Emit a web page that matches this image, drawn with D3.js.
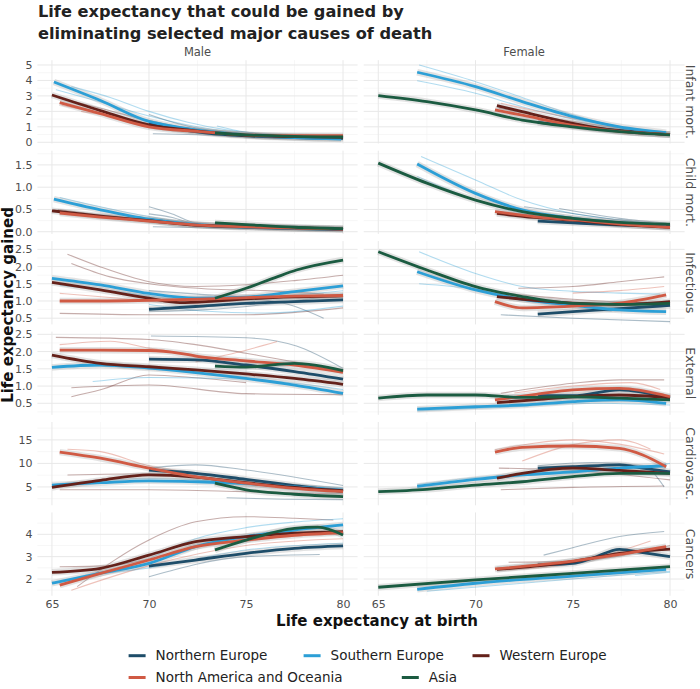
<!DOCTYPE html>
<html><head><meta charset="utf-8">
<script src="https://cdn.jsdelivr.net/npm/d3@7"></script>
<style>body{margin:0;background:#fff} text{font-family:"DejaVu Sans",sans-serif}</style>
</head><body><svg id="c" width="700" height="689"></svg>
<script>
// ---------- data ----------
const sexes = ["Male", "Female"];
const causes = ["Infant mort.", "Child mort.", "Infectious", "External", "Cardiovasc.", "Cancers"];
const regionKeys = ["NE", "SE", "WE", "NAO", "AS"];
const regionNames = ["Northern Europe", "Southern Europe", "Western Europe", "North America and Oceania", "Asia"];
const regionColors = ["#1e4d69", "#2c9fd6", "#64211a", "#d05a44", "#1b5b41"];
const xTicks = [65, 70, 75, 80];
const yTicks = [[0,1,2,3,4,5],[0,0.5,1,1.5],[0.5,1,1.5,2,2.5],[0.5,1,1.5,2,2.5],[5,10,15],[2,3,4]];
const yMinor = [[0.5,1.5,2.5,3.5,4.5],[0.25,0.75,1.25,1.75],[0.75,1.25,1.75,2.25],[0.25,0.75,1.25,1.75,2.25],[2.5,7.5,12.5,17.5],[1.5,2.5,3.5,4.5]];
const yTickDecimals = [0, 1, 1, 1, 0, 0];
const yDomains = [[-0.08,5.31],[-0.05,1.82],[0.32,2.74],[0.165,2.58],[1.1,18.8],[1.25,4.98]];

// regional smoothed curves: [region, cause, [[lifeExp, gain], ...]]
const maleSmooth = [
  ["NE","Infant mort.",[[70,1.25],[71.5,0.85],[73,0.6],[75,0.42],[77.5,0.3],[80,0.25]]],
  ["SE","Infant mort.",[[65.1,3.9],[67.5,2.7],[70,1.35],[71.4,1.0],[72.4,0.8],[75,0.47],[77.5,0.3],[79.9,0.21]]],
  ["WE","Infant mort.",[[65,3.06],[67.5,2.05],[70,1.12],[72.4,0.74],[75,0.45],[77.5,0.36],[80,0.32]]],
  ["NAO","Infant mort.",[[65.4,2.56],[67.5,1.85],[70,1.0],[72.5,0.7],[75,0.48],[77.5,0.42],[80,0.42]]],
  ["AS","Infant mort.",[[73.4,0.6],[75,0.48],[77.5,0.38],[80,0.34]]],
  ["NE","Child mort.",[[70,0.27],[72.4,0.15],[75,0.1],[77.5,0.07],[80,0.05]]],
  ["SE","Child mort.",[[65.1,0.73],[67.5,0.49],[70,0.28],[72.5,0.16],[75,0.11],[77.5,0.08],[80,0.06]]],
  ["WE","Child mort.",[[65,0.47],[67.5,0.35],[70,0.25],[72.4,0.15],[75,0.12],[77.5,0.09],[80,0.06]]],
  ["NAO","Child mort.",[[65.4,0.42],[67.5,0.33],[70,0.24],[72.5,0.15],[75,0.11],[77.5,0.08],[80,0.06]]],
  ["AS","Child mort.",[[73.4,0.2],[75,0.16],[77.5,0.1],[80,0.07]]],
  ["NE","Infectious",[[70,0.76],[72.4,0.84],[75,0.93],[77.5,0.98],[80,1.03]]],
  ["SE","Infectious",[[65,1.66],[67.5,1.47],[70,1.22],[72.4,1.08],[75,1.11],[77.5,1.27],[80,1.44]]],
  ["WE","Infectious",[[65,1.54],[67.5,1.32],[70,1.08],[71.6,0.95],[73.4,1.0],[75,1.06],[77.5,1.12],[80,1.15]]],
  ["NAO","Infectious",[[65.4,1.0],[67.5,1.0],[70,1.02],[72.5,1.05],[75,1.1],[77.5,1.14],[80,1.16]]],
  ["AS","Infectious",[[73.4,1.08],[75,1.37],[76.5,1.68],[77.6,1.9],[80,2.19]]],
  ["NE","External",[[70,1.78],[72.4,1.76],[75,1.61],[77.5,1.42],[80,1.2]]],
  ["SE","External",[[65,1.54],[67.5,1.61],[70,1.52],[72.4,1.39],[75,1.22],[77.5,1.03],[80,0.79]]],
  ["WE","External",[[65,1.9],[67.5,1.66],[70,1.56],[72.4,1.47],[75,1.35],[77.5,1.22],[80,1.05]]],
  ["NAO","External",[[65.4,2.04],[67.5,2.04],[70,2.03],[71.6,1.95],[72.4,1.87],[75,1.73],[77.5,1.61],[80,1.4]]],
  ["AS","External",[[73.4,1.58],[75,1.55],[77.5,1.66],[80,1.45]]],
  ["NE","Cardiovasc.",[[70,8.6],[72.4,7.9],[75,6.6],[77.5,5.3],[80,4.0]]],
  ["SE","Cardiovasc.",[[65,5.4],[67.5,5.9],[70,6.3],[72.5,6.1],[75,5.7],[77.5,5.0],[80,4.3]]],
  ["WE","Cardiovasc.",[[65,4.9],[67.5,6.4],[70,7.55],[72.4,7.1],[75,5.9],[77.5,4.9],[80,4.2]]],
  ["NAO","Cardiovasc.",[[65.4,12.4],[67.5,11.1],[70,9.0],[72.4,7.2],[75,5.8],[77.5,4.7],[80,4.0]]],
  ["AS","Cardiovasc.",[[73.4,5.8],[75,4.4],[77.5,3.45],[80,2.95]]],
  ["NE","Cancers",[[70,2.58],[72.4,2.85],[75,3.15],[77.5,3.37],[80,3.48]]],
  ["SE","Cancers",[[65,1.81],[67.5,2.26],[70,2.7],[72.4,3.45],[75,3.9],[77.5,4.19],[80,4.42]]],
  ["WE","Cancers",[[65,2.3],[67.5,2.48],[70,3.07],[72.4,3.67],[75,3.9],[77.5,4.05],[80,4.12]]],
  ["NAO","Cancers",[[65.4,1.73],[67.5,2.25],[70,2.85],[72.4,3.45],[75,3.74],[77.5,3.96],[80,4.07]]],
  ["AS","Cancers",[[73.4,3.3],[75,3.74],[77.5,4.27],[78.7,4.32],[80,3.97]]]
];
const femaleSmooth = [
  ["NE","Infant mort.",[[73.2,1.29],[75,1.05],[77.5,0.75],[80,0.5]]],
  ["SE","Infant mort.",[[67,4.53],[70,3.6],[72.4,2.63],[75,1.66],[77.4,1.0],[79.8,0.62]]],
  ["WE","Infant mort.",[[71.1,2.37],[72.4,1.98],[75,1.23],[77.4,0.73],[80,0.5]]],
  ["NAO","Infant mort.",[[71,2.09],[72.4,1.75],[75,1.1],[77.4,0.7],[80,0.5]]],
  ["AS","Infant mort.",[[65,3.02],[67.5,2.63],[70,2.09],[72.4,1.44],[75,1.0],[77.4,0.69],[80,0.48]]],
  ["NE","Child mort.",[[73.2,0.24],[75,0.2],[77.5,0.15],[80,0.12]]],
  ["SE","Child mort.",[[67,1.52],[70,0.86],[72.4,0.49],[75,0.3],[77.5,0.2],[79.8,0.14]]],
  ["WE","Child mort.",[[71.1,0.41],[73,0.32],[75,0.26],[77.5,0.16],[80,0.1]]],
  ["NAO","Child mort.",[[71,0.45],[73,0.34],[75,0.27],[77.5,0.17],[80,0.1]]],
  ["AS","Child mort.",[[65,1.54],[67.5,1.09],[70,0.71],[72.4,0.45],[75,0.3],[77.4,0.21],[80,0.17]]],
  ["NE","Infectious",[[73.2,0.62],[75,0.69],[77.4,0.78],[80,0.87]]],
  ["SE","Infectious",[[67,1.85],[70,1.32],[72.4,1.05],[75,0.88],[77.4,0.74],[79.8,0.69]]],
  ["WE","Infectious",[[71.1,1.13],[73,1.02],[75,0.94],[77.4,0.9],[80,0.98]]],
  ["NAO","Infectious",[[71,0.98],[72.4,0.8],[75,0.85],[77.4,0.94],[79.8,1.18]]],
  ["AS","Infectious",[[65,2.43],[67.5,1.9],[70,1.42],[72.4,1.13],[75,0.93],[77.4,0.9],[80,0.93]]],
  ["NE","External",[[73.2,0.72],[75,0.72],[77.4,0.89],[80,0.65]]],
  ["SE","External",[[67,0.33],[70,0.4],[72.4,0.45],[75,0.55],[77.4,0.6],[79.8,0.5]]],
  ["WE","External",[[71.1,0.52],[73,0.6],[75,0.69],[77.4,0.74],[80,0.66]]],
  ["NAO","External",[[71,0.6],[73,0.75],[75,0.89],[77.4,0.93],[80,0.69]]],
  ["AS","External",[[65,0.65],[67.5,0.74],[70,0.74],[72.4,0.67],[75,0.69],[77.4,0.65],[80,0.6]]],
  ["NE","Cardiovasc.",[[73.2,9.0],[75,9.3],[77.4,9.7],[78.6,9.0],[80,8.2]]],
  ["SE","Cardiovasc.",[[67,5.1],[70,6.6],[72.4,7.55],[75,8.2],[77.4,9.0],[79.8,9.5]]],
  ["WE","Cardiovasc.",[[71.1,6.85],[72.4,7.9],[75,9.0],[77.4,8.5],[80,7.9]]],
  ["NAO","Cardiovasc.",[[71,12.4],[72.4,13.4],[75,13.7],[77.4,13.2],[78.6,11.8],[79.8,9.3]]],
  ["AS","Cardiovasc.",[[65,4.0],[67.5,4.5],[70,5.4],[72.4,6.1],[75,7.2],[77.4,7.9],[80,7.9]]],
  ["NE","Cancers",[[73.2,2.63],[75,2.7],[76,2.93],[77.4,3.33],[78.6,3.18],[80,3.0]]],
  ["SE","Cancers",[[67,1.54],[70,1.81],[75,2.13],[79.8,2.43]]],
  ["WE","Cancers",[[71.1,2.43],[75,2.78],[77.4,3.15],[80,3.34]]],
  ["NAO","Cancers",[[71,2.45],[75,2.8],[77.4,3.1],[79.8,3.45]]],
  ["AS","Cancers",[[65,1.63],[70,1.96],[75,2.25],[80,2.55]]]
];

// individual country curves
const maleCountries = [
  ["SE","Infant mort.",[[65.2,3.4],[67.5,2.6],[70,1.7],[72.5,1.0],[75,0.55],[80,0.25]]],
  ["SE","Infant mort.",[[66,3.6],[68,2.9],[70,2.0],[72,1.3],[74,0.8],[77,0.45],[80,0.3]]],
  ["SE","Infant mort.",[[73.5,1.05],[75,0.65],[77,0.45],[80,0.3]]],
  ["NE","Infant mort.",[[70,1.8],[71.5,1.2],[73,0.8],[75,0.55],[80,0.3]]],
  ["NE","Infant mort.",[[70.2,0.55],[72,0.5],[75,0.4],[80,0.25]]],
  ["WE","Infant mort.",[[65.3,2.9],[67.5,2.2],[70,1.4],[72,0.9],[75,0.55],[80,0.35]]],
  ["NAO","Infant mort.",[[65.5,2.4],[67,2.0],[70,1.1],[72.5,0.75],[75,0.5],[80,0.4]]],
  ["NAO","Infant mort.",[[66.5,2.0],[68,1.7],[70,1.2],[72,0.8],[74,0.55]]],
  ["NE","Child mort.",[[70,0.56],[71.2,0.4],[72.4,0.2],[75,0.12],[80,0.06]]],
  ["NE","Child mort.",[[70,0.4],[71.2,0.32],[72.4,0.17],[75,0.1]]],
  ["NE","Child mort.",[[70.2,0.11],[73,0.09],[76,0.07],[80,0.05]]],
  ["SE","Child mort.",[[65.4,0.77],[67.5,0.56],[70,0.34],[72.4,0.19],[75,0.12],[80,0.06]]],
  ["WE","Child mort.",[[65.3,0.5],[67.5,0.38],[70,0.27],[73,0.15],[80,0.06]]],
  ["NAO","Child mort.",[[66,0.38],[68,0.3],[70,0.22],[73,0.14]]],
  ["WE","Infectious",[[65.8,2.36],[67.5,1.99],[70,1.56],[72.4,1.42],[75,1.47],[77.6,1.6],[80,1.75]]],
  ["WE","Infectious",[[66,2.09],[68,1.7],[70,1.5],[73,1.35],[76,1.3],[79,1.2]]],
  ["NE","Infectious",[[70,1.3],[72.5,1.2],[75,1.1],[77.5,0.85],[79,0.5]]],
  ["WE","Infectious",[[65.4,0.64],[70,0.6],[75,0.6],[80,0.8]]],
  ["NAO","Infectious",[[65.4,1.22],[68,1.1],[70,1.0],[73,0.9]]],
  ["SE","Infectious",[[65.4,1.45],[68,1.3],[70,1.15],[73,1.0],[76,1.1],[80,1.3]]],
  ["SE","Infectious",[[70,0.9],[73,0.7],[76,0.65],[80,0.85]]],
  ["NE","Infectious",[[70,0.7],[73,0.75],[76,0.9],[80,1.2]]],
  ["WE","External",[[65.2,2.41],[70,2.35],[72.4,2.2],[75,1.95],[77.5,1.7],[80,1.4]]],
  ["NE","External",[[70.1,2.45],[75,2.4],[77.6,2.16],[80,1.51]]],
  ["NAO","External",[[72.4,1.7],[75,2.04],[76.6,2.29]]],
  ["WE","External",[[66,0.69],[67.5,0.89],[70,1.32],[72.4,1.24],[75,1.1]]],
  ["WE","External",[[66,0.95],[70,1.03],[75,0.78],[80,0.75]]],
  ["SE","External",[[67.1,1.13],[70,1.25],[75,1.2],[80,0.9]]],
  ["NAO","External",[[65.4,2.2],[68,2.3],[70,2.1],[73,1.85]]],
  ["NAO","Cardiovasc.",[[65.8,13.0],[67.5,12.5],[70,9.5],[72.5,8.0]]],
  ["NE","Cardiovasc.",[[70,9.0],[72.4,9.7],[75,8.6],[80,5.3]]],
  ["WE","Cardiovasc.",[[65.8,7.55],[70,7.8],[73,7.0]]],
  ["NE","Cardiovasc.",[[74,2.7],[77,2.4],[80,2.3]]],
  ["WE","Cardiovasc.",[[65.4,4.4],[70,4.4],[75,4.0],[80,3.5]]],
  ["SE","Cardiovasc.",[[66,5.8],[70,6.8],[75,6.0],[80,4.8]]],
  ["WE","Cancers",[[66.3,1.66],[70,3.75],[72.4,4.56],[75,4.79],[77.5,4.72],[79.5,4.64]]],
  ["NE","Cancers",[[70,2.1],[75,3.0],[78.8,3.1]]],
  ["SE","Cancers",[[70,2.9],[72.4,3.8],[75,4.3],[77.5,4.55],[80,4.7]]],
  ["WE","Cancers",[[65.4,2.55],[68,2.6],[70,2.9]]],
  ["NAO","Cancers",[[66,1.5],[70,2.6],[75,3.5],[80,3.8]]],
  ["SE","Cancers",[[67,2.2],[70,2.5],[75,3.3],[80,3.6]]]
];
const femaleCountries = [
  ["SE","Infant mort.",[[67.1,5.0],[70,3.92],[72.4,2.9],[75,1.78],[77.4,1.0],[80,0.6]]],
  ["SE","Infant mort.",[[67,3.98],[70,3.17],[72.4,2.3],[75,1.5],[80,0.55]]],
  ["NAO","Infant mort.",[[71.3,2.52],[75,1.55],[80,0.55]]],
  ["WE","Infant mort.",[[71.2,2.2],[75,1.35],[80,0.5]]],
  ["NE","Infant mort.",[[73.2,1.45],[75,1.15],[80,0.45]]],
  ["SE","Child mort.",[[67.2,1.69],[70,1.16],[72.4,0.71],[75,0.41],[77.6,0.26],[80,0.15]]],
  ["SE","Child mort.",[[67,1.24],[70,0.71],[72.4,0.41],[75,0.25]]],
  ["NE","Child mort.",[[72.5,0.56],[75,0.41],[77.4,0.26],[80,0.15]]],
  ["NE","Child mort.",[[74.3,0.52],[77.4,0.3],[80,0.18]]],
  ["WE","Child mort.",[[71.1,0.45],[75,0.28],[80,0.1]]],
  ["SE","Infectious",[[67.1,2.43],[70,1.8],[72.4,1.42],[75,1.28],[77.4,1.23],[79.5,1.2]]],
  ["SE","Infectious",[[67.1,1.5],[70,1.34],[73,1.0],[77,0.7]]],
  ["WE","Infectious",[[72.2,1.37],[75,1.42],[77.4,1.56],[79.7,1.7]]],
  ["NAO","Infectious",[[75,1.23],[77.4,1.3],[79.7,1.42]]],
  ["NE","Infectious",[[71.3,0.6],[75,0.5],[80,0.4]]],
  ["WE","Infectious",[[71,1.25],[75,1.05],[80,0.9]]],
  ["WE","External",[[71.3,0.79],[75,1.08],[77.4,1.18],[79.7,1.18]]],
  ["NAO","External",[[72,0.8],[75,1.0],[78,1.1],[79.5,0.9]]],
  ["SE","External",[[67,0.28],[72,0.4],[76,0.5],[80,0.45]]],
  ["NE","External",[[71.2,0.4],[75,0.55],[80,0.6]]],
  ["NAO","Cardiovasc.",[[71,12.9],[73,14.3],[75,15.0],[77.4,14.1],[79.7,12.0]]],
  ["NAO","Cardiovasc.",[[72.4,10.5],[75,14.0],[77.4,15.0],[79,13]]],
  ["WE","Cardiovasc.",[[71.3,4.4],[75,4.9],[79.7,5.2]]],
  ["NE","Cardiovasc.",[[73.2,9.5],[76,10.2],[78.6,9.5],[79.7,5.0]]],
  ["SE","Cardiovasc.",[[67,5.5],[70,7.0],[75,8.0],[80,10.0]]],
  ["WE","Cardiovasc.",[[71.2,9.0],[75,8.5],[80,6.5]]],
  ["NE","Cancers",[[73.5,3.07],[75,3.4],[77.4,3.9],[79.7,4.13]]],
  ["WE","Cancers",[[71.7,2.75],[75,2.8],[80,3.5]]],
  ["SE","Cancers",[[78.2,2.16],[80,2.3]]],
  ["NAO","Cancers",[[71.5,2.4],[75,2.7],[79,3.7]]],
  ["SE","Cancers",[[67.5,1.45],[75,2.0],[80,2.35]]]
];

// ---------- layout ----------
const svg = d3.select("#c");
const colRange = [[37.4, 357.6], [363.7, 684.6]];
const rowTop0 = 60.2, rowH = 83.3, rowGap = 7.15;
const xDomain = [64.25, 80.75];
const colorOf = k => regionColors[regionKeys.indexOf(k)];
const tickCol = "#4d4d4d";

const xScales = colRange.map(r => d3.scaleLinear().domain(xDomain).range(r));
const yScales = causes.map((c, i) => {
  const top = rowTop0 + i * (rowH + rowGap);
  return d3.scaleLinear().domain(yDomains[i]).range([top + rowH, top]);
});

// title
const title = svg.append("text").attr("x", 38).attr("y", 17)
  .style("font-weight", "bold").style("font-size", "16.2px").attr("fill", "#222");
title.append("tspan").attr("x", 38).attr("y", 17).text("Life expectancy that could be gained by");
title.append("tspan").attr("x", 38).attr("y", 39).text("eliminating selected major causes of death");

const smoothBySex = [maleSmooth, femaleSmooth];
const countriesBySex = [maleCountries, femaleCountries];

sexes.forEach((sex, si) => {
  const x = xScales[si];
  // strip top
  svg.append("text").attr("x", (colRange[si][0] + colRange[si][1]) / 2).attr("y", 56)
    .attr("text-anchor", "middle").style("font-size", "11.5px").attr("fill", tickCol).text(sex);

  causes.forEach((cause, ci) => {
    const y = yScales[ci];
    const g = svg.append("g");
    const [x0, x1] = colRange[si];
    const [yb, yt] = y.range();
    // minor grid
    yMinor[ci].forEach(v => {
      g.append("line").attr("x1", x0).attr("x2", x1).attr("y1", y(v)).attr("y2", y(v))
        .attr("stroke", "#f1f1f1").attr("stroke-width", 0.6);
    });
    [67.5, 72.5, 77.5].forEach(v => {
      g.append("line").attr("x1", x(v)).attr("x2", x(v)).attr("y1", yt).attr("y2", yb)
        .attr("stroke", "#f1f1f1").attr("stroke-width", 0.6);
    });
    // major grid
    yTicks[ci].forEach(v => {
      g.append("line").attr("x1", x0).attr("x2", x1).attr("y1", y(v)).attr("y2", y(v))
        .attr("stroke", "#e8e8e8").attr("stroke-width", 1);
    });
    xTicks.forEach(v => {
      g.append("line").attr("x1", x(v)).attr("x2", x(v)).attr("y1", yt).attr("y2", yb)
        .attr("stroke", "#e8e8e8").attr("stroke-width", 1);
    });

    const line = d3.line().x(d => x(d[0])).y(d => y(d[1])).curve(d3.curveMonotoneX);
    // country lines
    countriesBySex[si].filter(d => d[1] === cause).forEach(d => {
      g.append("path").attr("d", line(d[2])).attr("fill", "none")
        .attr("stroke", colorOf(d[0])).attr("stroke-opacity", 0.37).attr("stroke-width", 1.1);
    });
    const sm = smoothBySex[si].filter(d => d[1] === cause);
    // grey uncertainty halo
    sm.forEach(d => {
      g.append("path").attr("d", line(d[2])).attr("fill", "none")
        .attr("stroke", "#9a9a9a").attr("stroke-opacity", 0.28).attr("stroke-width", 6.5)
        .attr("stroke-linecap", "butt");
    });
    sm.forEach(d => {
      g.append("path").attr("d", line(d[2])).attr("fill", "none")
        .attr("stroke", colorOf(d[0])).attr("stroke-width", 2.8);
    });

    // y axis labels (left column only)
    if (si === 0) {
      const ax = d3.axisLeft(y).tickValues(yTicks[ci]).tickSize(0).tickPadding(0)
        .tickFormat(d3.format("." + yTickDecimals[ci] + "f"));
      const ag = svg.append("g").attr("transform", `translate(32.5,0)`).call(ax);
      ag.select(".domain").remove();
      ag.selectAll("text").attr("fill", tickCol).style("font-size", "11px")
        .style("font-family", "DejaVu Sans");
    }
    // right strips
    if (si === 1) {
      const cy = (yt + yb) / 2;
      svg.append("text").attr("transform", `translate(690,${cy}) rotate(90)`)
        .attr("text-anchor", "middle").attr("dy", "0.35em")
        .style("font-size", "12.5px").attr("fill", tickCol).text(cause);
    }
  });

  // x axis
  const bottom = yScales[5].range()[0];
  const xa = d3.axisBottom(x).tickValues(xTicks).tickSize(0).tickPadding(0).tickFormat(d3.format("d"));
  const xg = svg.append("g").attr("transform", `translate(0,${bottom + 4})`).call(xa);
  xg.select(".domain").remove();
  xg.selectAll("text").attr("fill", tickCol).style("font-size", "11px").style("font-family", "DejaVu Sans");
});

// axis titles
svg.append("text").attr("x", 377).attr("y", 626).attr("text-anchor", "middle")
  .style("font-weight", "bold").style("font-size", "15px").attr("fill", "#111")
  .text("Life expectancy at birth");
svg.append("text").attr("transform", "translate(13,305) rotate(-90)").attr("text-anchor", "middle")
  .style("font-weight", "bold").style("font-size", "15px").attr("fill", "#111")
  .text("Life expectancy gained");

// legend
const legendPos = [[128.6, 655.7], [303.6, 655.7], [472.5, 655.7], [128.6, 677.5], [401.8, 677.5]];
regionNames.forEach((name, i) => {
  const [lx, ly] = legendPos[i];
  svg.append("line").attr("x1", lx).attr("x2", lx + 17).attr("y1", ly).attr("y2", ly)
    .attr("stroke", regionColors[i]).attr("stroke-width", 3);
  svg.append("text").attr("x", lx + 27).attr("y", ly).attr("dy", "0.35em")
    .style("font-size", "13.5px").attr("fill", "#222").text(name);
});
</script></body></html>
